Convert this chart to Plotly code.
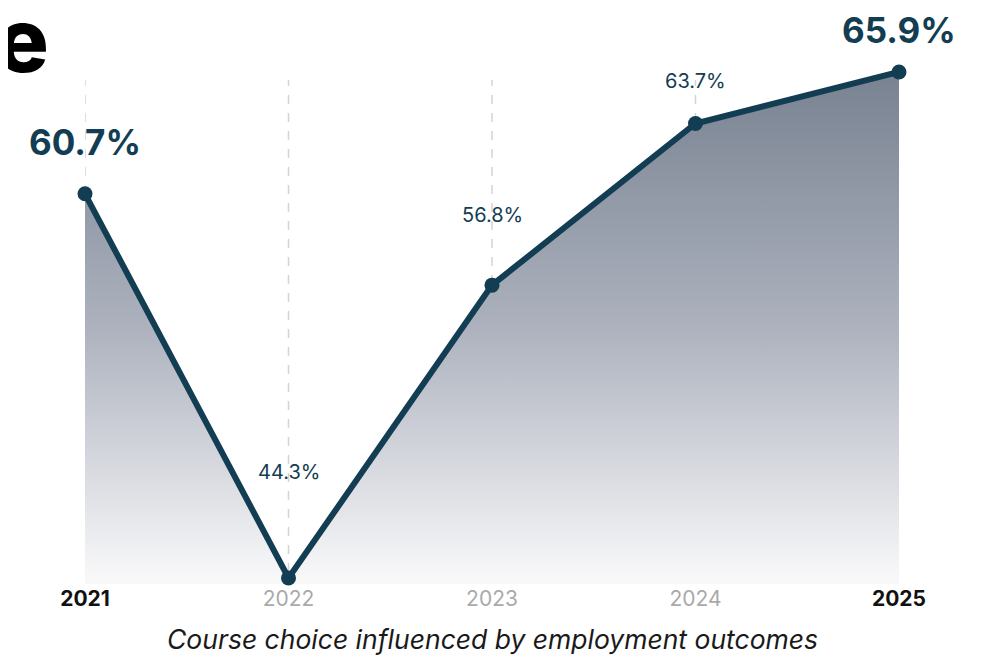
import plotly.graph_objects as go

# chart data
years = [2021, 2022, 2023, 2024, 2025]
share = [60.7, 44.3, 56.8, 63.7, 65.9]
labels = ['60.7%', '44.3%', '56.8%', '63.7%', '65.9%']
highlight = [True, False, False, False, True]

NAVY = '#133d52'
label_shift = [52, 106, 70, 42, 42]

fig = go.Figure()

fig.add_trace(go.Scatter(
    x=years, y=share,
    mode='lines+markers',
    line=dict(color=NAVY, width=6),
    marker=dict(color=NAVY, size=15),
    fill='tozeroy',
    fillgradient=dict(type='vertical',
                      start=44.3, stop=65.9,
                      colorscale=[[0, 'rgba(248,248,249,1)'],
                                  [0.5, 'rgba(172,177,189,1)'],
                                  [1, 'rgba(120,130,145,1)']]),
    cliponaxis=False,
    hoverinfo='skip',
))

for yr, val, txt, big, dy in zip(years, share, labels, highlight, label_shift):
    fig.add_annotation(
        x=yr, y=val, text=txt, showarrow=False, yshift=dy,
        font=dict(family='Inter, sans-serif', size=35 if big else 20,
                  color=NAVY, weight=700 if big else 400),
    )

# dashed vertical guides (shorter than the plot area)
for yr in years:
    fig.add_shape(type='line', x0=yr, x1=yr, xref='x', yref='paper',
                  y0=0.023, y1=0.962, layer='below',
                  line=dict(color='#d4d4d4', width=1.5, dash='dash'))

# cropped headline letter at the top left
fig.add_annotation(
    x=-0.0418, y=1.038, xref='paper', yref='paper', xanchor='right', yanchor='middle',
    text='e', showarrow=False,
    font=dict(family='Inter, sans-serif', size=88, color='black', weight=800),
)

fig.add_annotation(
    x=0.5, y=0, xref='paper', yref='paper', yshift=-73, showarrow=False,
    text='<i>Course choice influenced by employment outcomes</i>',
    font=dict(family='Inter, sans-serif', size=26.5, color='#1a1a1a'),
)

tick_text = [f"<b>{y}</b>" if h else f"<span style='color:#aaaaaa'>{y}</span>"
             for y, h in zip(years, highlight)]

fig.update_layout(
    width=982, height=657,
    margin=dict(l=77, r=91, t=52, b=81),
    paper_bgcolor='white', plot_bgcolor='white',
    showlegend=False,
    font=dict(family='Inter, sans-serif'),
    xaxis=dict(range=[2021, 2025], tickvals=years, ticktext=tick_text,
               showgrid=False, zeroline=False, showline=False, ticks='',
               ticklabelstandoff=0,
               tickfont=dict(size=21, color='#111111')),
    yaxis=dict(range=[44.044, 66.41], visible=False, showgrid=False),
)

fig.write_html('out.html')
